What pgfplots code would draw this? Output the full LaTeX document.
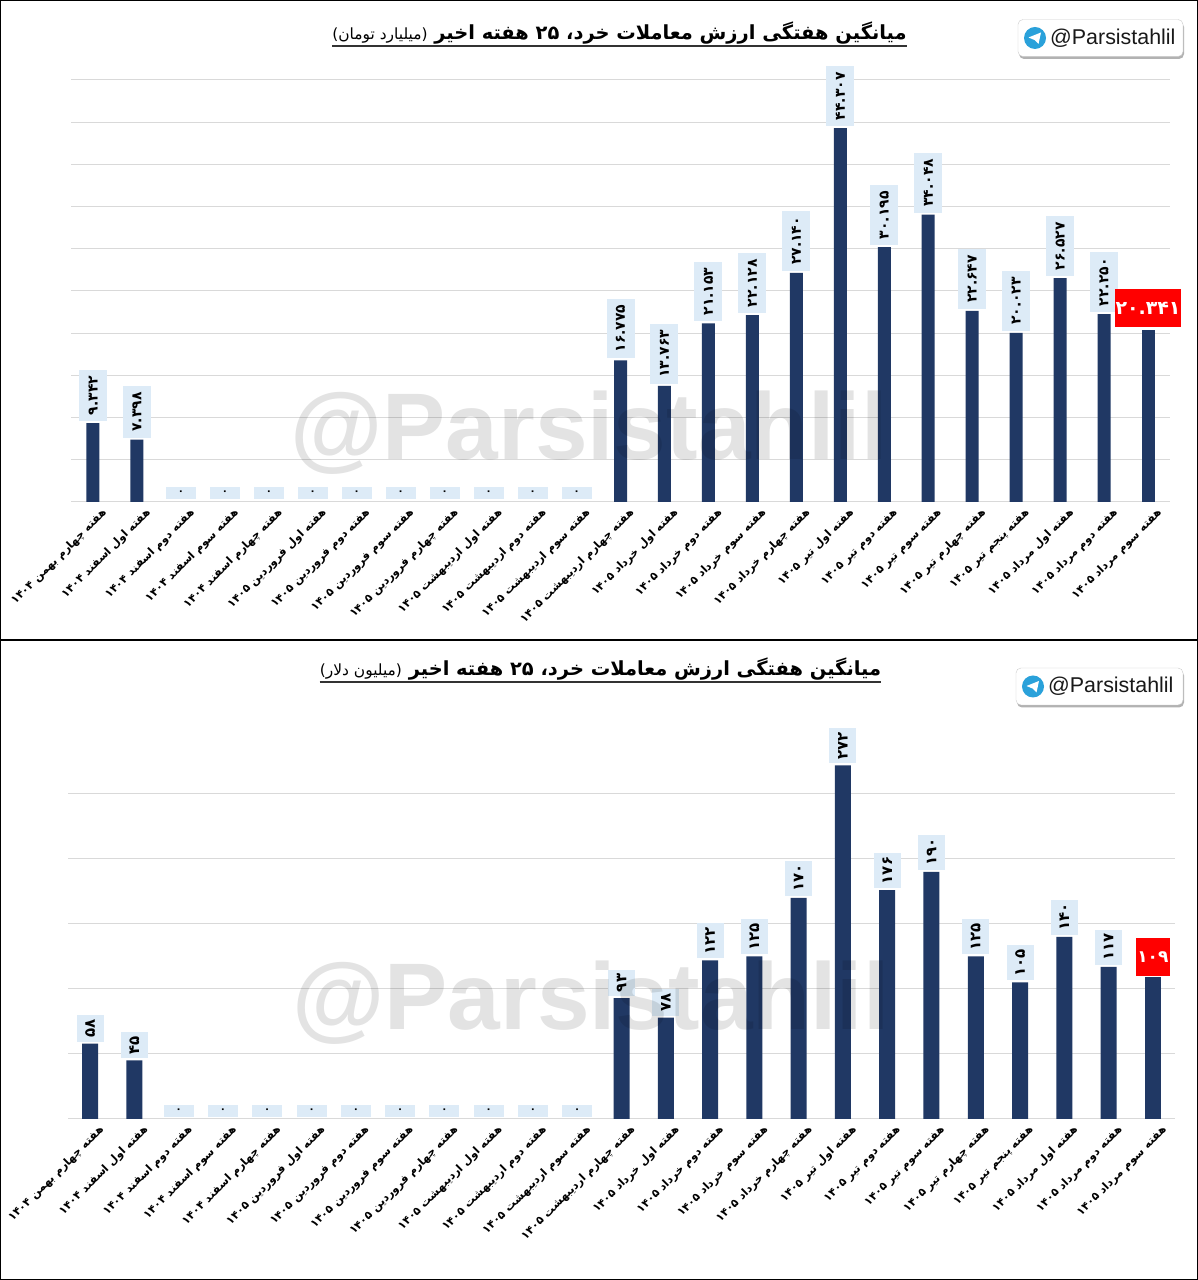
\documentclass[border=0pt]{standalone}
\usepackage{fontspec}
\usepackage{pgfplots}
\pgfplotsset{compat=1.18}
\setmainfont{Liberation Sans}
\newfontfamily\arabicfont[Script=Arabic]{DejaVu Sans}
\TeXXeTstate=1
\newcommand\fa[1]{{\arabicfont\beginR #1\endR}}
\definecolor{navy}{HTML}{203864}
\definecolor{lblue}{HTML}{DDEBF7}
\definecolor{gridc}{HTML}{D9D9D9}
\definecolor{tgblue}{HTML}{2AA1DA}
\definecolor{redl}{HTML}{FF0000}

\pgfplotsset{
  mylabels/.style={xtick={0,...,24},
    xticklabels={
\fa{هفته چهارم بهمن ۱۴۰۴},
\fa{هفته اول اسفند ۱۴۰۴},
\fa{هفته دوم اسفند ۱۴۰۴},
\fa{هفته سوم اسفند ۱۴۰۴},
\fa{هفته چهارم اسفند ۱۴۰۴},
\fa{هفته اول فروردین ۱۴۰۵},
\fa{هفته دوم فروردین ۱۴۰۵},
\fa{هفته سوم فروردین ۱۴۰۵},
\fa{هفته چهارم فروردین ۱۴۰۵},
\fa{هفته اول اردیبهشت ۱۴۰۵},
\fa{هفته دوم اردیبهشت ۱۴۰۵},
\fa{هفته سوم اردیبهشت ۱۴۰۵},
\fa{هفته چهارم اردیبهشت ۱۴۰۵},
\fa{هفته اول خرداد ۱۴۰۵},
\fa{هفته دوم خرداد ۱۴۰۵},
\fa{هفته سوم خرداد ۱۴۰۵},
\fa{هفته چهارم خرداد ۱۴۰۵},
\fa{هفته اول تیر ۱۴۰۵},
\fa{هفته دوم تیر ۱۴۰۵},
\fa{هفته سوم تیر ۱۴۰۵},
\fa{هفته چهارم تیر ۱۴۰۵},
\fa{هفته پنجم تیر ۱۴۰۵},
\fa{هفته اول مرداد ۱۴۰۵},
\fa{هفته دوم مرداد ۱۴۰۵},
\fa{هفته سوم مرداد ۱۴۰۵}}},
  common/.style={scale only axis, xmin=-0.5, xmax=24.5, ymin=0,
    enlargelimits=false, axis line style={draw=none}, major tick length=0pt,
    scaled y ticks=false, yticklabels={}, ymajorgrids, grid style={gridc, line width=1bp},
    ybar, bar shift=0pt, clip=false, mylabels,
    xticklabel style={rotate=45, anchor=east, inner sep=0pt, xshift=2bp, yshift=-15bp,
      font=\arabicfont\bfseries\fontsize{11.2}{11.2}\selectfont}},
}

\newcommand\badge[3]{% left x, center y, right x
  \fill[black!30, rounded corners=5bp] (#1+1,#2-21) rectangle (#3+1,#2+16);
  \filldraw[fill=white, draw=black!20, rounded corners=5bp] (#1,#2-18.5) rectangle (#3,#2+18.5);
  \fill[tgblue] (#1+17,#2) circle (11bp);
  \fill[white] (#1+17-6.5,#2+0.5) -- (#1+17+6,#2+5.5) -- (#1+17+3.5,#2-6) -- (#1+17-0.5,#2-2) -- cycle;
  \node[anchor=west, inner sep=0pt, font=\fontsize{21.5}{21.5}\selectfont, text=black!90] at (#1+32,#2) {@Parsistahlil};
}

\begin{document}
\begin{tikzpicture}[x=1bp,y=1bp]
\path[use as bounding box] (0,0) rectangle (1198,1280);
\fill[white] (0,0) rectangle (1198,1280);

% ---------- top chart ----------
\begin{axis}[common, at={(71bp,778bp)}, anchor=south west,
  width=1099bp, height=422bp, ymax=50000, ytick={0,5000,...,50000}, bar width=13bp]
\addplot[fill=navy, draw=none, nodes near coords, point meta=explicit symbolic,
  every node near coord/.append style={rotate=90, anchor=west, fill=lblue, text=black,
    font=\arabicfont\bfseries\fontsize{14}{14}\selectfont, minimum height=28bp,
    inner xsep=6bp, inner ysep=0pt, outer xsep=2bp, outer ysep=0pt}]
coordinates {(0,9342) [۹.۳۴۲] (1,7398) [۷.۳۹۸]
 (12,16775) [۱۶.۷۷۵] (13,13763) [۱۳.۷۶۳] (14,21153) [۲۱.۱۵۳] (15,22128) [۲۲.۱۲۸]
 (16,27140) [۲۷.۱۴۰] (17,44307) [۴۴.۳۰۷] (18,30195) [۳۰.۱۹۵] (19,34048) [۳۴.۰۴۸]
 (20,22647) [۲۲.۶۴۷] (21,20023) [۲۰.۰۲۳] (22,26527) [۲۶.۵۲۷] (23,22250) [۲۲.۲۵۰]};
\addplot[fill=none, draw=none, nodes near coords, point meta=explicit symbolic,
  every node near coord/.append style={anchor=south, fill=lblue, text=black,
    font=\arabicfont\bfseries\fontsize{10}{10}\selectfont, minimum width=30bp, minimum height=12bp,
    inner sep=0pt, yshift=3bp}]
coordinates {(2,0) [۰] (3,0) [۰] (4,0) [۰] (5,0) [۰] (6,0) [۰] (7,0) [۰] (8,0) [۰] (9,0) [۰] (10,0) [۰] (11,0) [۰]};
\addplot[fill=navy, draw=none, nodes near coords, point meta=explicit symbolic,
  every node near coord/.append style={anchor=south, fill=redl, text=white,
    font=\arabicfont\bfseries\fontsize{19}{19}\selectfont, minimum width=66bp, minimum height=38bp,
    inner sep=1bp, yshift=3bp}]
coordinates {(24,20341) [۲۰.۳۴۱]};
\end{axis}

% ---------- bottom chart ----------
\begin{axis}[common, at={(68bp,161bp)}, anchor=south west,
  width=1107bp, height=390bp, ymax=300, ytick={0,50,...,250}, bar width=16bp]
\addplot[fill=navy, draw=none, nodes near coords, point meta=explicit symbolic,
  every node near coord/.append style={rotate=90, anchor=west, fill=lblue, text=black,
    font=\arabicfont\bfseries\fontsize{15}{15}\selectfont, minimum height=27bp,
    inner xsep=4bp, inner ysep=0pt, outer xsep=2bp, outer ysep=0pt}]
coordinates {(0,58) [۵۸] (1,45) [۴۵]
 (12,93) [۹۳] (13,78) [۷۸] (14,122) [۱۲۲] (15,125) [۱۲۵] (16,170) [۱۷۰]
 (17,272) [۲۷۲] (18,176) [۱۷۶] (19,190) [۱۹۰] (20,125) [۱۲۵] (21,105) [۱۰۵]
 (22,140) [۱۴۰] (23,117) [۱۱۷]};
\addplot[fill=none, draw=none, nodes near coords, point meta=explicit symbolic,
  every node near coord/.append style={anchor=south, fill=lblue, text=black,
    font=\arabicfont\bfseries\fontsize{10}{10}\selectfont, minimum width=30bp, minimum height=12bp,
    inner sep=0pt, yshift=2bp}]
coordinates {(2,0) [۰] (3,0) [۰] (4,0) [۰] (5,0) [۰] (6,0) [۰] (7,0) [۰] (8,0) [۰] (9,0) [۰] (10,0) [۰] (11,0) [۰]};
\addplot[fill=navy, draw=none, nodes near coords, point meta=explicit symbolic,
  every node near coord/.append style={anchor=south, fill=redl, text=white,
    font=\arabicfont\bfseries\fontsize{17}{17}\selectfont, minimum width=34bp, minimum height=38bp,
    inner sep=1bp, yshift=1bp}]
coordinates {(24,109) [۱۰۹]};
\end{axis}

% watermarks
\node[anchor=base west, inner sep=0pt, font=\bfseries\fontsize{95}{95}\selectfont, text=black, text opacity=0.11] at (290,820) {@Parsistahlil};
\node[anchor=base west, inner sep=0pt, font=\bfseries\fontsize{95}{95}\selectfont, text=black, text opacity=0.11] at (292,250) {@Parsistahlil};

% titles
\node[anchor=base, inner sep=0pt] (t1) at (619.5,1240) {\fa{\bfseries\fontsize{19.5}{19.5}\selectfont میانگین هفتگی ارزش معاملات خرد، ۲۵ هفته اخیر {\mdseries\fontsize{15.5}{15.5}\selectfont (میلیارد تومان)}}};
\draw[line width=1.3bp, black!80] ([yshift=-6bp]t1.base west) -- ([yshift=-6bp]t1.base east);
\node[anchor=base, inner sep=0pt] (t2) at (600.5,604) {\fa{\bfseries\fontsize{19.5}{19.5}\selectfont میانگین هفتگی ارزش معاملات خرد، ۲۵ هفته اخیر {\mdseries\fontsize{15.5}{15.5}\selectfont (میلیون دلار)}}};
\draw[line width=1.3bp, black!80] ([yshift=-6bp]t2.base west) -- ([yshift=-6bp]t2.base east);

% badges
\badge{1018}{1242}{1183}
\badge{1016}{593.5}{1183}

% panel frames
\draw[line width=1.5bp] (0.75,640) rectangle (1197.25,1279.25);
\draw[line width=1.5bp] (0.75,0.75) rectangle (1197.25,640);
\end{tikzpicture}
\end{document}
